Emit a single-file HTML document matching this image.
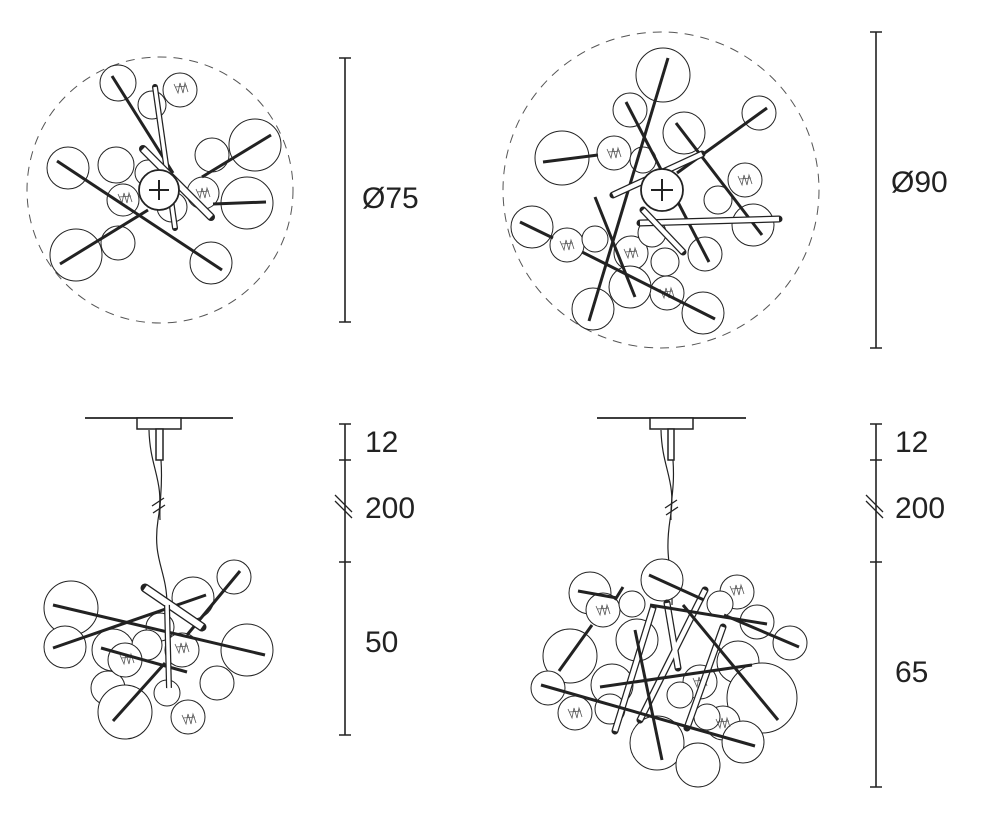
<!DOCTYPE html>
<html><head><meta charset="utf-8"><style>
html,body{margin:0;padding:0;background:#fff;}
svg{display:block}
text{font-family:"Liberation Sans",sans-serif;font-size:30px;fill:#222}
</style></head><body>
<svg width="984" height="840" viewBox="0 0 984 840" xmlns="http://www.w3.org/2000/svg">
<defs>
<g id="fil"><path d="M-7,-4 L-3,5 L-1,-5 L2,5 L4,-5 L7,4 M-6,-1 L6,-2" fill="none" stroke="#555" stroke-width="0.8"/></g>
</defs>
<g fill="#fff" stroke="#222" stroke-width="1">
<!-- TOP LEFT -->
<circle cx="160" cy="190" r="133" fill="none" stroke="#555" stroke-dasharray="9,7"/>
<circle cx="118" cy="83" r="18"/><circle cx="180" cy="90" r="17"/><circle cx="152" cy="105" r="14"/>
<circle cx="68" cy="168" r="21"/><circle cx="116" cy="165" r="18"/><circle cx="255" cy="145" r="26"/>
<circle cx="212" cy="155" r="17"/><circle cx="247" cy="203" r="26"/><circle cx="203" cy="193" r="16"/>
<circle cx="123" cy="200" r="16"/><circle cx="172" cy="207" r="15"/><circle cx="148" cy="173" r="13"/>
<circle cx="118" cy="243" r="17"/><circle cx="76" cy="255" r="26"/><circle cx="211" cy="263" r="21"/>
<use href="#fil" x="181" y="88"/><use href="#fil" x="125" y="198"/><use href="#fil" x="203" y="193"/>
<g stroke-width="3"><line x1="112" y1="76" x2="173" y2="173"/><line x1="57" y1="161" x2="222" y2="270"/>
<line x1="60" y1="264" x2="148" y2="210"/><line x1="202" y1="177" x2="271" y2="135"/><line x1="213" y1="204" x2="266" y2="202"/></g>
<line x1="155" y1="87" x2="175" y2="228" stroke-width="6" stroke-linecap="round"/><line x1="155" y1="87" x2="175" y2="228" stroke="#fff" stroke-width="3.5"/>
<line x1="143" y1="149" x2="211" y2="217" stroke-width="8" stroke-linecap="round"/><line x1="143" y1="149" x2="211" y2="217" stroke="#fff" stroke-width="5.5"/>
<circle cx="159" cy="190" r="20" stroke-width="1.8"/><path d="M149,190H169M159,180V200" stroke-width="2"/>

<!-- TOP RIGHT -->
<circle cx="661" cy="190" r="158" fill="none" stroke="#555" stroke-dasharray="9,7"/>
<circle cx="663" cy="75" r="27"/><circle cx="630" cy="110" r="17"/><circle cx="684" cy="133" r="21"/>
<circle cx="759" cy="113" r="17"/><circle cx="562" cy="158" r="27"/><circle cx="614" cy="153" r="17"/>
<circle cx="643" cy="160" r="13"/><circle cx="745" cy="180" r="17"/><circle cx="718" cy="200" r="14"/>
<circle cx="753" cy="225" r="21"/><circle cx="532" cy="227" r="21"/><circle cx="567" cy="245" r="17"/>
<circle cx="595" cy="239" r="13"/><circle cx="631" cy="253" r="17"/><circle cx="652" cy="233" r="14"/>
<circle cx="665" cy="262" r="14"/><circle cx="667" cy="293" r="17"/><circle cx="705" cy="254" r="17"/>
<circle cx="630" cy="287" r="21"/><circle cx="593" cy="309" r="21"/><circle cx="703" cy="313" r="21"/>
<use href="#fil" x="614" y="153"/><use href="#fil" x="745" y="180"/><use href="#fil" x="567" y="245"/><use href="#fil" x="631" y="253"/><use href="#fil" x="667" y="293"/>
<g stroke-width="3"><line x1="668" y1="58" x2="589" y2="321"/><line x1="626" y1="102" x2="709" y2="262"/>
<line x1="676" y1="123" x2="762" y2="235"/><line x1="543" y1="162" x2="598" y2="155"/><line x1="767" y1="108" x2="677" y2="173"/>
<line x1="595" y1="197" x2="635" y2="297"/><line x1="520" y1="222" x2="553" y2="238"/><line x1="582" y1="252" x2="715" y2="319"/></g>
<line x1="613" y1="195" x2="702" y2="154" stroke-width="7" stroke-linecap="round"/><line x1="613" y1="195" x2="702" y2="154" stroke="#fff" stroke-width="4.5"/>
<line x1="640" y1="223" x2="779" y2="219" stroke-width="7" stroke-linecap="round"/><line x1="640" y1="223" x2="779" y2="219" stroke="#fff" stroke-width="4.5"/>
<line x1="643" y1="210" x2="683" y2="252" stroke-width="7" stroke-linecap="round"/><line x1="643" y1="210" x2="683" y2="252" stroke="#fff" stroke-width="4.5"/>
<circle cx="662" cy="190" r="21" stroke-width="1.8"/><path d="M651,190H673M662,179V201" stroke-width="2"/>

<!-- BOTTOM LEFT -->
<line x1="85" y1="418" x2="233" y2="418" stroke-width="1.8"/>
<rect x="137" y="418" width="44" height="11" stroke-width="1.5"/>
<rect x="156" y="429" width="7" height="31" stroke-width="1.5"/>
<path d="M149,430 C150,470 165,480 158,520 C152,560 167,570 167,605" fill="none" stroke-width="1.2"/>
<path d="M161,460 C163,490 159,500 160,520" fill="none" stroke-width="1.2"/>
<path d="M152,506 L164,498 M153,513 L165,505" stroke-width="1.3"/>
<circle cx="71" cy="608" r="27"/><circle cx="65" cy="647" r="21"/><circle cx="113" cy="650" r="21"/>
<circle cx="193" cy="598" r="21"/><circle cx="234" cy="577" r="17"/><circle cx="247" cy="650" r="26"/>
<circle cx="217" cy="683" r="17"/><circle cx="108" cy="688" r="17"/><circle cx="125" cy="712" r="27"/>
<circle cx="160" cy="627" r="14"/><circle cx="147" cy="645" r="15"/><circle cx="125" cy="660" r="17"/>
<circle cx="182" cy="650" r="17"/><circle cx="167" cy="693" r="13"/><circle cx="188" cy="717" r="17"/>
<use href="#fil" x="127" y="659"/><use href="#fil" x="182" y="648"/><use href="#fil" x="189" y="719"/>
<g stroke-width="3"><line x1="53" y1="605" x2="265" y2="655"/><line x1="53" y1="648" x2="206" y2="595"/>
<line x1="240" y1="571" x2="187" y2="635"/><line x1="101" y1="648" x2="187" y2="672"/><line x1="113" y1="721" x2="165" y2="663"/></g>
<line x1="145" y1="588" x2="202" y2="627" stroke-width="9" stroke-linecap="round"/><line x1="145" y1="588" x2="202" y2="627" stroke="#fff" stroke-width="6.5"/>
<line x1="167" y1="605" x2="169" y2="688" stroke-width="6"/><line x1="167" y1="605" x2="169" y2="688" stroke="#fff" stroke-width="3.5"/>

<!-- BOTTOM RIGHT -->
<line x1="597" y1="418" x2="746" y2="418" stroke-width="1.8"/>
<rect x="650" y="418" width="43" height="11" stroke-width="1.5"/>
<rect x="668" y="429" width="6" height="31" stroke-width="1.5"/>
<path d="M661,430 C662,470 677,480 670,520 C664,560 673,570 672,605" fill="none" stroke-width="1.2"/>
<path d="M673,460 C675,490 670,500 671,520" fill="none" stroke-width="1.2"/>
<path d="M665,508 L677,500 M666,515 L678,507" stroke-width="1.3"/>
<circle cx="662" cy="580" r="21"/><circle cx="590" cy="593" r="21"/><circle cx="603" cy="610" r="17"/>
<circle cx="632" cy="604" r="13"/><circle cx="737" cy="592" r="17"/><circle cx="720" cy="604" r="13"/>
<circle cx="757" cy="622" r="17"/><circle cx="790" cy="643" r="17"/><circle cx="570" cy="656" r="27"/>
<circle cx="637" cy="640" r="21"/><circle cx="738" cy="662" r="21"/><circle cx="762" cy="698" r="35"/>
<circle cx="612" cy="685" r="21"/><circle cx="548" cy="688" r="17"/><circle cx="575" cy="713" r="17"/>
<circle cx="610" cy="709" r="15"/><circle cx="700" cy="682" r="17"/><circle cx="680" cy="695" r="13"/>
<circle cx="723" cy="723" r="17"/><circle cx="707" cy="717" r="13"/><circle cx="657" cy="743" r="27"/>
<circle cx="698" cy="765" r="22"/><circle cx="743" cy="742" r="21"/>
<use href="#fil" x="603" y="610"/><use href="#fil" x="737" y="590"/><use href="#fil" x="575" y="713"/><use href="#fil" x="700" y="682"/><use href="#fil" x="723" y="723"/>
<g stroke-width="7" stroke-linecap="round"><line x1="667" y1="603" x2="678" y2="668"/><line x1="653" y1="608" x2="615" y2="731"/><line x1="723" y1="627" x2="687" y2="728"/><line x1="705" y1="590" x2="640" y2="720"/></g>
<g stroke="#fff" stroke-width="4.5"><line x1="667" y1="603" x2="678" y2="668"/><line x1="653" y1="608" x2="615" y2="731"/><line x1="723" y1="627" x2="687" y2="728"/><line x1="705" y1="590" x2="640" y2="720"/></g>
<g stroke-width="3"><line x1="649" y1="575" x2="704" y2="600"/><line x1="578" y1="591" x2="617" y2="598"/>
<line x1="623" y1="587" x2="615" y2="600"/><line x1="650" y1="605" x2="767" y2="624"/><line x1="724" y1="615" x2="799" y2="647"/>
<line x1="683" y1="605" x2="778" y2="720"/><line x1="592" y1="625" x2="559" y2="671"/><line x1="635" y1="630" x2="662" y2="760"/>
<line x1="600" y1="687" x2="752" y2="665"/><line x1="541" y1="685" x2="755" y2="746"/></g>

<!-- DIMENSIONS -->
<g stroke-width="1.6">
<path d="M345,58V322M339,58H351M339,322H351"/>
<path d="M876,32V348M870,32H882M870,348H882"/>
<path d="M345,424V735M339,424H351M339,460H351M339,562H351M339,735H351"/>
<path d="M335,495L352,512M335,501L352,518" stroke-width="1.3"/>
<path d="M876,424V787M870,424H882M870,460H882M870,562H882M870,787H882"/>
<path d="M866,495L883,512M866,501L883,518" stroke-width="1.3"/>
</g>
</g>
<text x="362" y="208">Ø75</text>
<text x="891" y="192">Ø90</text>
<text x="365" y="452">12</text><text x="365" y="518">200</text><text x="365" y="652">50</text>
<text x="895" y="452">12</text><text x="895" y="518">200</text><text x="895" y="682">65</text>
</svg>
</body></html>
